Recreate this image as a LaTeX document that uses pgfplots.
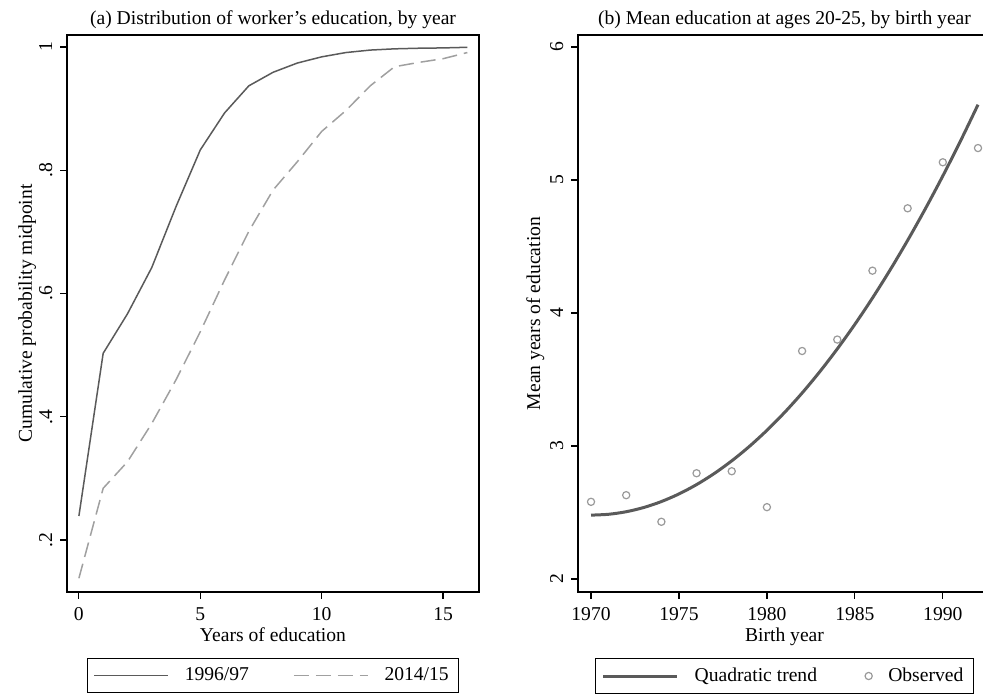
\documentclass[border=0pt]{standalone}
\usepackage{fontspec}
\setmainfont{Liberation Serif}
\usepackage{pgfplots}
\pgfplotsset{compat=1.18}
\definecolor{darkline}{HTML}{5A5A5A}
\definecolor{lightline}{HTML}{A0A0A0}
\definecolor{markgray}{HTML}{9A9A9A}
\pgfplotsset{
  lineleg/.style={legend image code/.code={\draw[##1] (0pt,0pt) -- (37pt,0pt);}},
  markleg/.style={legend image code/.code={\draw[##1] plot coordinates {(4pt,0pt)};}},
}
\begin{document}
\begin{tikzpicture}
\pgfplotsset{
  every axis/.append style={
    scale only axis,
    font=\fontsize{9.8}{11.5}\selectfont,
    axis line style={line width=0.9pt},
    tick style={line width=0.6pt, black},
    tick align=outside,
    major tick length=3.4pt,
    xtick pos=bottom, ytick pos=left,
    /pgf/number format/assume math mode=true,
    /pgf/number format/1000 sep={},
    yticklabel style={rotate=90, anchor=base},
    yticklabel shift=4pt,
    xticklabel shift=0.8pt,
    title style={at={(0.5,1)}, anchor=base, yshift=-1pt},
    xlabel style={at={(0.5,0)}, anchor=base, yshift=-24.5pt},
    legend style={draw=black, line width=0.7pt, font=\fontsize{9.8}{11.5}\selectfont,
      at={(0.5,-0.1185)}, anchor=north, inner xsep=3pt, inner ysep=2.5pt,
      /tikz/every odd column/.append style={column sep=6pt}},
    legend columns=2,
    legend cell align=left,
  }
}
% ---------------- Panel (a) ----------------
\begin{axis}[
  at={(33.5pt,51.5pt)}, anchor=south west,
  width=206pt, height=278.5pt,
  xmin=-0.49, xmax=16.48,
  ymin=0.1157, ymax=1.0195,
  xtick={0,5,10,15},
  ytick={0.2,0.4,0.6,0.8,1},
  yticklabels={.2,.4,.6,.8,1},
  title={(a) Distribution of worker's education, by year},
  xlabel={Years of education},
  ylabel={Cumulative probability midpoint},
  ylabel style={at={(axis description cs:-0.085,0.5)}, anchor=base, rotate=0},
  lineleg,
  legend style={/tikz/every even column/.append style={column sep=20pt}},
]
\addplot[darkline, line width=0.75pt] coordinates {
 (0,0.239) (1,0.503) (2,0.567) (3,0.642) (4,0.741) (5,0.833) (6,0.893)
 (7,0.937) (8,0.959) (9,0.974) (10,0.984) (11,0.991) (12,0.995)
 (13,0.997) (14,0.998) (15,0.9985) (16,0.9995)};
\addlegendentry{1996/97}
\addplot[lightline, line width=0.75pt, dash pattern=on 7.5pt off 3.5pt] coordinates {
 (0,0.138) (1,0.284) (2,0.327) (3,0.389) (4,0.460) (5,0.538) (6,0.622)
 (7,0.701) (8,0.768) (9,0.814) (10,0.863) (11,0.897) (12,0.937)
 (13,0.968) (14,0.975) (15,0.981) (16,0.991)};
\addlegendentry{2014/15}
\end{axis}
% ---------------- Panel (b) ----------------
\begin{axis}[
  at={(289pt,51.5pt)}, anchor=south west,
  width=206.5pt, height=278.5pt,
  xmin=1969.26, xmax=1992.74,
  ymin=1.902, ymax=6.09,
  xtick={1970,1975,1980,1985,1990},
  ytick={2,3,4,5,6},
  title={(b) Mean education at ages 20-25, by birth year},
  xlabel={Birth year},
  ylabel={Mean years of education},
  ylabel style={at={(axis description cs:-0.092,0.5)}, anchor=base, rotate=0},
  legend style={/tikz/every even column/.append style={column sep=22pt}},
]
\addplot[darkline, line width=1.5pt, smooth, lineleg] coordinates {
 (1970,2.4800) (1971,2.4864) (1972,2.5055) (1973,2.5374) (1974,2.5820)
 (1975,2.6394) (1976,2.7095) (1977,2.7924) (1978,2.8881) (1979,2.9964)
 (1980,3.1176) (1981,3.2515) (1982,3.3981) (1983,3.5575) (1984,3.7297)
 (1985,3.9146) (1986,4.1123) (1987,4.3227) (1988,4.5459) (1989,4.7818)
 (1990,5.0304) (1991,5.2918) (1992,5.5659)};
\addlegendentry{Quadratic trend}
\addplot[only marks, mark=o, mark size=1.8pt, markgray, mark options={line width=0.6pt}, markleg] coordinates {
 (1970,2.58) (1972,2.63) (1974,2.43) (1976,2.795) (1978,2.81) (1980,2.54)
 (1982,3.714) (1984,3.80) (1986,4.318) (1988,4.787) (1990,5.133) (1992,5.24)};
\addlegendentry{Observed}
\end{axis}
\pgfresetboundingbox
\useasboundingbox (0,0) rectangle (491.5pt,347.5pt);
\end{tikzpicture}
\end{document}
